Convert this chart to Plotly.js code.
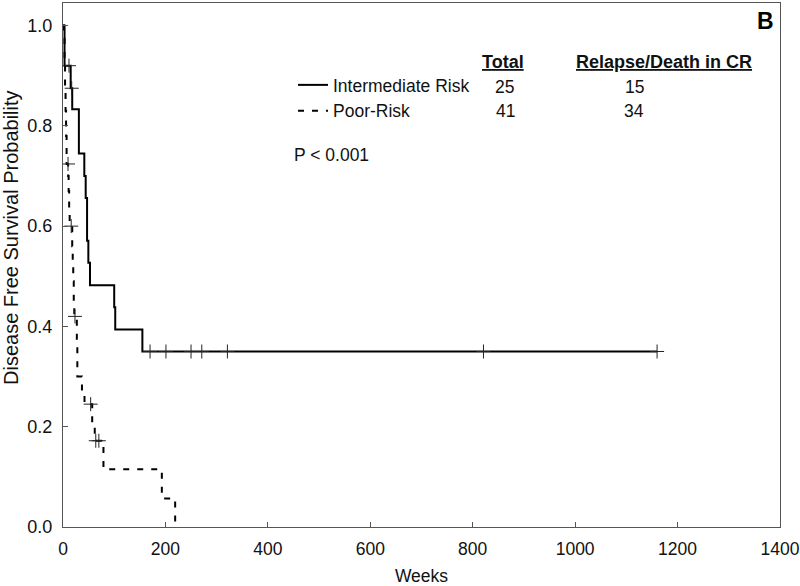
<!DOCTYPE html>
<html>
<head>
<meta charset="utf-8">
<script src="https://cdn.plot.ly/plotly-3.0.1.min.js"></script>
<style>
  html, body { margin: 0; padding: 0; background: #fff; }
  #chart { width: 800px; height: 586px; }
</style>
</head>
<body>
<div id="chart"></div>
<script>
// ---- Data ----
// Intermediate risk: Kaplan-Meier step curve (week, survival)
var intWeeks    = [0, 3, 15, 18, 31, 41.6, 44.3, 47, 49.5, 52.7, 100, 102, 155, 1160];
var intSurv     = [1.0, 0.92, 0.875, 0.833, 0.745, 0.70, 0.656, 0.571, 0.527, 0.482, 0.438, 0.394, 0.350, 0.350];
var intCensWeeks = [11.7, 17, 170, 201, 250, 271, 321, 821, 1160];
var intCensSurv  = [0.92, 0.875, 0.35, 0.35, 0.35, 0.35, 0.35, 0.35, 0.35];

// Poor risk: Kaplan-Meier step curve (week, survival)
var poorWeeks   = [0, 2, 3, 4, 5, 6, 7, 10, 11, 12, 13, 18, 19, 20, 21, 22, 27, 28, 37, 42, 57, 62, 79, 193, 219];
var poorSurv    = [1.0, 0.976, 0.93, 0.88, 0.83, 0.78, 0.724, 0.70, 0.67, 0.63, 0.60, 0.56, 0.52, 0.49, 0.45, 0.42, 0.36, 0.30, 0.27, 0.245, 0.205, 0.172, 0.115, 0.057, 0.0];
var poorCensWeeks = [9.8, 16, 23.4, 54, 64, 70];
var poorCensSurv  = [0.724, 0.60, 0.42, 0.245, 0.172, 0.172];

// Table text
var groupNames  = ["Intermediate Risk", "Poor-Risk"];
var totals      = [25, 41];
var events      = [15, 34];
var pValueText  = "P < 0.001";
var panelLabel  = "B";
var xTitle      = "Weeks";
var yTitle      = "Disease Free Survival Probability";
var xTicks      = [0, 200, 400, 600, 800, 1000, 1200, 1400];
var yTicks      = [0.0, 0.2, 0.4, 0.6, 0.8, 1.0];

// ---- Layout geometry ----
var W = 800, H = 586;
var M = {l: 63, r: 20, t: 3, b: 59};
var PW = W - M.l - M.r, PH = H - M.t - M.b;
function px(x) { return (x - M.l) / PW; }
function py(y) { return (H - M.b - y) / PH; }

var FONT = '"Liberation Sans", Arial, sans-serif';
var lineColor = '#000';

var traces = [
  {x: intWeeks, y: intSurv, mode: 'lines', line: {shape: 'hv', color: lineColor, width: 2}, name: groupNames[0], showlegend: true},
  {x: poorWeeks, y: poorSurv, mode: 'lines', line: {shape: 'hv', color: lineColor, width: 2, dash: '6px,8px'}, name: groupNames[1], showlegend: true},
  {x: intCensWeeks, y: intCensSurv, mode: 'markers', marker: {symbol: 'cross-thin', size: 10, line: {width: 1, color: '#222'}}, showlegend: false, hoverinfo: 'skip'},
  {x: poorCensWeeks, y: poorCensSurv, mode: 'markers', marker: {symbol: 'cross-thin', size: 10, line: {width: 1, color: '#222'}}, showlegend: false, hoverinfo: 'skip'}
];

var txt = {family: FONT, size: 17.5, color: '#111'};
var hdr = {family: FONT, size: 18, color: '#111'};
var annotations = [
  {text: '<b><u>Total</u></b>', x: px(503), y: py(62), xref: 'paper', yref: 'paper', showarrow: false, font: hdr, xanchor: 'center', yanchor: 'middle'},
  {text: '<b><u>Relapse/Death in CR</u></b>', x: px(664), y: py(62), xref: 'paper', yref: 'paper', showarrow: false, font: hdr, xanchor: 'center', yanchor: 'middle'},
  {text: String(totals[0]), x: px(504), y: py(87), xref: 'paper', yref: 'paper', showarrow: false, font: txt, xanchor: 'center', yanchor: 'middle'},
  {text: String(events[0]), x: px(634), y: py(87), xref: 'paper', yref: 'paper', showarrow: false, font: txt, xanchor: 'center', yanchor: 'middle'},
  {text: String(totals[1]), x: px(505), y: py(111), xref: 'paper', yref: 'paper', showarrow: false, font: txt, xanchor: 'center', yanchor: 'middle'},
  {text: String(events[1]), x: px(634), y: py(111), xref: 'paper', yref: 'paper', showarrow: false, font: txt, xanchor: 'center', yanchor: 'middle'},
  {text: pValueText, x: px(292), y: py(155), xref: 'paper', yref: 'paper', showarrow: false, font: txt, xanchor: 'left', yanchor: 'middle'},
  {text: '<b>' + panelLabel + '</b>', x: px(765), y: py(21), xref: 'paper', yref: 'paper', showarrow: false, font: {family: FONT, size: 23, color: '#000'}, xanchor: 'center', yanchor: 'middle'},
  {text: yTitle, x: px(11), y: py(238), xref: 'paper', yref: 'paper', showarrow: false, textangle: -90, font: {family: FONT, size: 20, color: '#111'}, xanchor: 'center', yanchor: 'middle'}
];

var axisCommon = {
  showline: true, mirror: true, linecolor: '#555', linewidth: 1,
  ticks: 'inside', ticklen: 5, tickcolor: '#555', tickwidth: 1,
  showgrid: false, zeroline: false,
  ticklabeloverflow: 'allow'
};

var layout = {
  width: W, height: H,
  margin: M,
  paper_bgcolor: '#fff', plot_bgcolor: '#fff',
  font: {family: FONT, size: 17.5, color: '#111'},
  showlegend: true,
  legend: {x: px(293), y: py(67), xanchor: 'left', yanchor: 'top', bgcolor: 'rgba(0,0,0,0)', font: txt, tracegroupgap: 0, itemwidth: 30},
  xaxis: Object.assign({}, axisCommon, {
    range: [0, 1400], tickvals: xTicks, ticktext: xTicks.map(String), ticklabelstandoff: 6,
    tickfont: {family: FONT, size: 17.5, color: '#111'},
    title: {text: xTitle, font: {family: FONT, size: 17.5, color: '#111'}, standoff: 12}
  }),
  yaxis: Object.assign({}, axisCommon, {
    range: [0, 1.045], tickvals: yTicks, ticktext: yTicks.map(function (v) { return v.toFixed(1); }), ticklabelstandoff: 6,
    tickfont: {family: FONT, size: 18, color: '#111'}
  }),
  annotations: annotations
};

Plotly.newPlot('chart', traces, layout, {staticPlot: true, displayModeBar: false});
</script>
</body>
</html>
